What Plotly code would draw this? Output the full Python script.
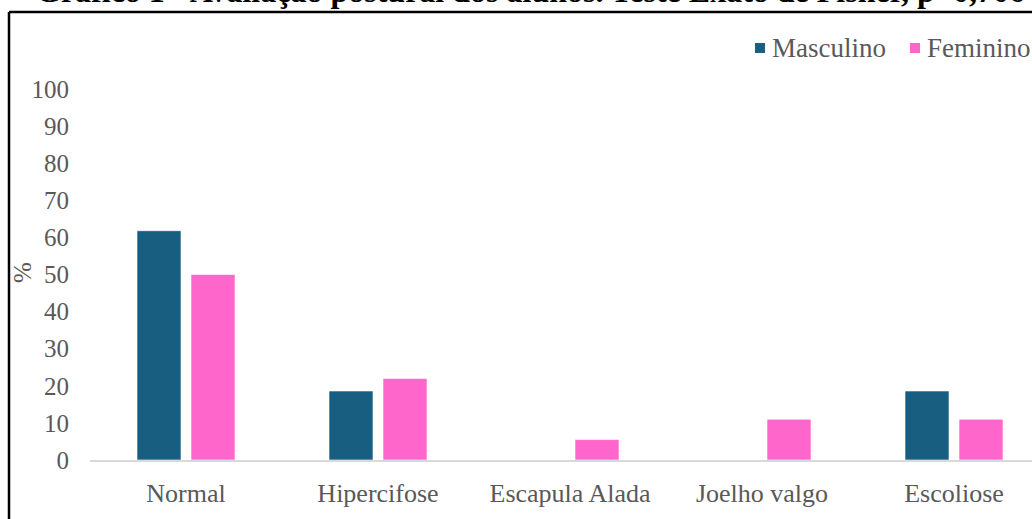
import plotly.graph_objects as go

categorias = ["Normal", "Hipercifose", "Escapula Alada", "Joelho valgo", "Escoliose"]
masculino = [61.8, 18.6, 0, 0, 18.6]
feminino = [50.0, 22.0, 5.5, 11.0, 11.0]
y_ticks = [0, 10, 20, 30, 40, 50, 60, 70, 80, 90, 100]
series = [("Masculino", masculino, "#175E80"), ("Feminino", feminino, "#FF66CC")]

titulo = "Gráfico 1 - Avaliação postural dos alunos. Teste Exato de Fisher, p=0,706"

W, H = 1032, 519
L, R, T, B = 90, 0, 89, 59
pw, ph = W - L - R, H - T - B
FONT = "Liberation Serif, Times New Roman, serif"
GRAY = "#595959"


def px_x(x):
    return (x - L) / pw


def px_y(y):
    return (H - B - y) / ph


fig = go.Figure()
for nome, valores, cor in series:
    fig.add_trace(go.Bar(
        x=categorias, y=valores, name=nome, showlegend=False,
        marker=dict(color=cor, line=dict(color="#FFFFFF", width=0.6)),
    ))

fig.update_layout(
    width=W, height=H,
    margin=dict(l=L, r=R, t=T, b=B),
    paper_bgcolor="white", plot_bgcolor="white",
    barmode="group", bargap=0.4375, bargroupgap=0.185,
    font=dict(family=FONT, color=GRAY, size=25),
    xaxis=dict(
        range=[-0.5, -0.5 + pw / 192.0],
        showline=True, linecolor="#D9D9D9", linewidth=2,
        showgrid=False, zeroline=False, ticks="",
        tickfont=dict(family=FONT, size=26, color=GRAY),
        ticklabelstandoff=9,
        fixedrange=True,
    ),
    yaxis=dict(
        range=[0, 100], tickvals=y_ticks,
        showline=False, showgrid=False, zeroline=False, ticks="",
        tickfont=dict(family=FONT, size=25, color=GRAY),
        ticklabelstandoff=20,
    ),
)

# legend drawn as swatches plus labels
legenda = [(755, 770), (910, 925)]
for (nome, _, cor), (sx, tx) in zip(series, legenda):
    fig.add_shape(type="rect", xref="paper", yref="paper",
                  x0=px_x(sx), x1=px_x(sx + 10), y0=px_y(53), y1=px_y(43),
                  fillcolor=cor, line=dict(width=0))
    fig.add_annotation(text=nome, xref="paper", yref="paper",
                       x=px_x(tx), y=px_y(48), showarrow=False,
                       xanchor="left", yanchor="middle",
                       font=dict(family=FONT, size=27, color=GRAY))

# y-axis title
fig.add_annotation(
    text="%", xref="paper", yref="paper",
    x=px_x(22), y=px_y(273), textangle=-90,
    showarrow=False, font=dict(family=FONT, size=25, color=GRAY),
    xanchor="center", yanchor="middle",
)

# chart title at the top edge
fig.add_annotation(
    text="<b>" + titulo + "</b>", xref="paper", yref="paper",
    x=px_x(530), y=px_y(-9), showarrow=False,
    font=dict(family=FONT, size=32, color="#000000"),
    xanchor="center", yanchor="middle",
)

# outer frame
fig.add_shape(type="line", xref="paper", yref="paper",
              x0=px_x(9), x1=px_x(1040), y0=px_y(12), y1=px_y(12),
              line=dict(color="#000000", width=2.5))
fig.add_shape(type="line", xref="paper", yref="paper",
              x0=px_x(9), x1=px_x(9), y0=px_y(12), y1=px_y(530),
              line=dict(color="#000000", width=2.5))

fig.write_html("out.html")
